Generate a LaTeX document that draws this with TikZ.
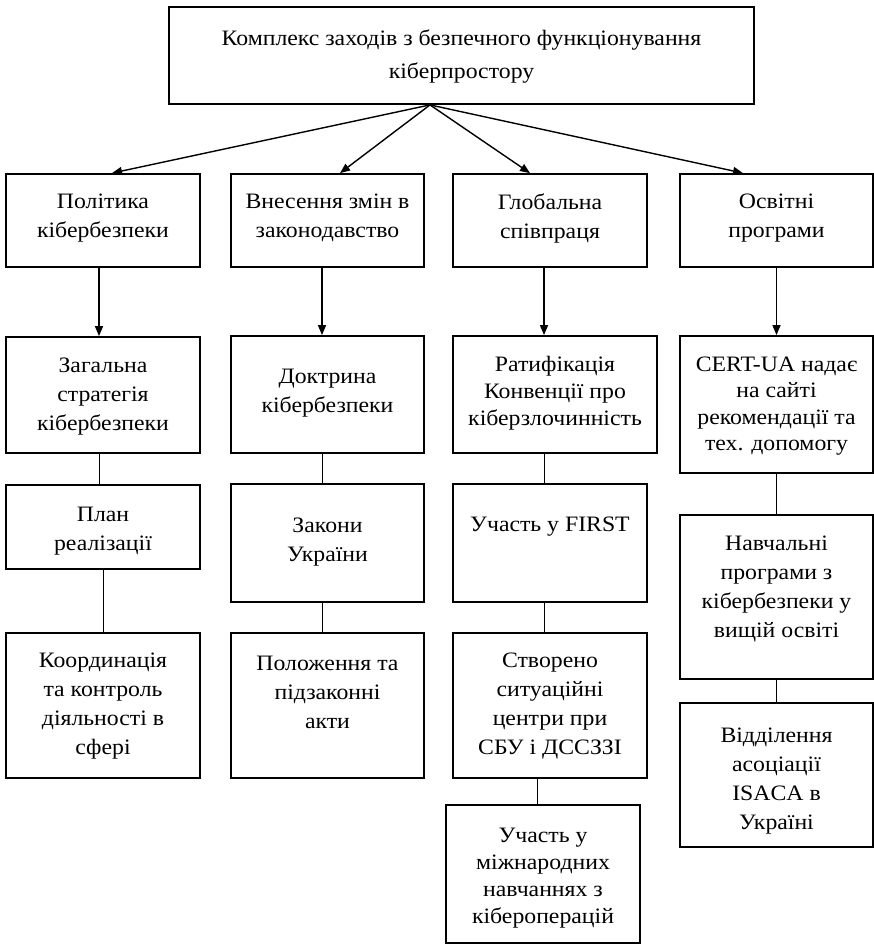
\documentclass[tikz,border=0pt]{standalone}
\usepackage{fontspec}
\setmainfont{Liberation Serif}[FakeStretch=1.08]
\usetikzlibrary{arrows.meta}
\tikzset{
  box/.style={draw=black, line width=1.8pt, rectangle, inner sep=0pt},
  txt/.style={align=center, inner sep=0pt, font=\fontsize{22}{29}\selectfont},
  arr/.style={line width=1.4pt, -{Triangle[length=10pt,width=8pt]}},
  conn/.style={line width=0.8pt}
}
\begin{document}
\begin{tikzpicture}[x=1pt,y=-1pt]
\useasboundingbox (0,0) rectangle (874,945);
% boxes
\node[box, minimum width=585pt, minimum height=97pt] (top) at (461.5,55.5) {};
\node[txt, font=\fontsize{22}{33}\selectfont] (topt) at (461.5,56.5) {Комплекс заходів з безпечного функціонування\\кіберпростору};

\node[box, minimum width=194pt, minimum height=93pt] (p1) at (103,220.5) {};
\node[box, minimum width=193pt, minimum height=93pt] (p2) at (327.5,220.5) {};
\node[box, minimum width=194pt, minimum height=93pt] (p3) at (550,220.5) {};
\node[box, minimum width=193pt, minimum height=93pt] (p4) at (776.5,220.5) {};
\node[txt] (p1t) at (103,218) {Політика\\кібербезпеки};
\node[txt] (p2t) at (327.5,218) {Внесення змін в\\законодавство};
\node[txt] (p3t) at (550,218) {Глобальна\\співпраця};
\node[txt] (p4t) at (776.5,218) {Освітні\\програми};

\node[box, minimum width=194pt, minimum height=116pt] (a1) at (103,395) {};
\node[box, minimum width=193pt, minimum height=117pt] (b1) at (327.5,394.5) {};
\node[box, minimum width=204pt, minimum height=117pt] (c1) at (555,394.5) {};
\node[box, minimum width=193pt, minimum height=137pt] (d1) at (776.5,404.5) {};
\node[txt] (a1t) at (103,397) {Загальна\\стратегія\\кібербезпеки};
\node[txt] (b1t) at (327.5,393) {Доктрина\\кібербезпеки};
\node[txt, font=\fontsize{22}{27}\selectfont] (c1t) at (555,393) {Ратифікація\\Конвенції про\\кіберзлочинність};
\node[txt, font=\fontsize{22}{26.5}\selectfont] (d1t) at (776.5,406) {CERT-UA надає\\на сайті\\рекомендації та\\тех. допомогу};

\node[box, minimum width=194pt, minimum height=84pt] (a2) at (103,527) {};
\node[box, minimum width=193pt, minimum height=118pt] (b2) at (327.5,543) {};
\node[box, minimum width=194pt, minimum height=118pt] (c2) at (550,543) {};
\node[box, minimum width=193pt, minimum height=164pt] (d2) at (776.5,597) {};
\node[txt] (a2t) at (103,531) {План\\реалізації};
\node[txt] (b2t) at (327.5,542) {Закони\\України};
\node[txt] (c2t) at (550,527) {Участь у FIRST};
\node[txt] (d2t) at (776.5,589) {Навчальні\\програми з\\кібербезпеки у\\вищій освіті};

\node[box, minimum width=194pt, minimum height=145pt] (a3) at (103,705.5) {};
\node[box, minimum width=193pt, minimum height=145pt] (b3) at (327.5,705.5) {};
\node[box, minimum width=194pt, minimum height=145pt] (c3) at (550,705.5) {};
\node[box, minimum width=193pt, minimum height=144pt] (d3) at (776.5,775) {};
\node[txt] (a3t) at (103,706) {Координація\\та контроль\\діяльності в\\сфері};
\node[txt] (b3t) at (327.5,692) {Положення та\\підзаконні\\акти};
\node[txt] (c3t) at (550,706) {Створено\\ситуаційні\\центри при\\СБУ і ДССЗЗІ};
\node[txt] (d3t) at (776.5,781) {Відділення\\асоціації\\ISACA в\\Україні};

\node[box, minimum width=194pt, minimum height=138pt] (c4) at (543,874) {};
\node[txt, font=\fontsize{22}{27}\selectfont] (c4t) at (543,878) {Участь у\\міжнародних\\навчаннях з\\кібероперацій};

% arrows from top
\draw[arr] ([xshift=-31.5pt]top.south) -- ([xshift=9pt]p1.north);
\draw[arr] ([xshift=-31.5pt]top.south) -- ([xshift=12.5pt]p2.north);
\draw[arr] ([xshift=-31.5pt]top.south) -- ([xshift=-20pt]p3.north);
\draw[arr] ([xshift=-31.5pt]top.south) -- ([xshift=-33.5pt]p4.north);

% vertical arrows
\draw[arr] ([xshift=-4pt]p1.south) -- ([xshift=-4pt]a1.north);
\draw[arr] ([xshift=-5.5pt]p2.south) -- ([xshift=-5.5pt]b1.north);
\draw[arr] ([xshift=-6pt]p3.south) -- ([xshift=-6pt]p3.south |- c1.north);
\draw[arr] (p4.south) -- (d1.north);

% plain connectors
\draw[conn] ([xshift=-4pt]a1.south) -- ([xshift=-4pt]a2.north);
\draw[conn] (a2.south) -- (a3.north);
\draw[conn] ([xshift=-5.5pt]b1.south) -- ([xshift=-5.5pt]b2.north);
\draw[conn] ([xshift=-5.5pt]b2.south) -- ([xshift=-5.5pt]b3.north);
\draw[conn] ([xshift=-6pt]c2.north |- c1.south) -- ([xshift=-6pt]c2.north);
\draw[conn] ([xshift=-6pt]c2.south) -- ([xshift=-6pt]c3.north);
\draw[conn] ([xshift=-6pt]c4.north |- c3.south) -- ([xshift=-6pt]c4.north);
\draw[conn] (d1.south) -- (d2.north);
\draw[conn] (d2.south) -- (d3.north);
\end{tikzpicture}
\end{document}
